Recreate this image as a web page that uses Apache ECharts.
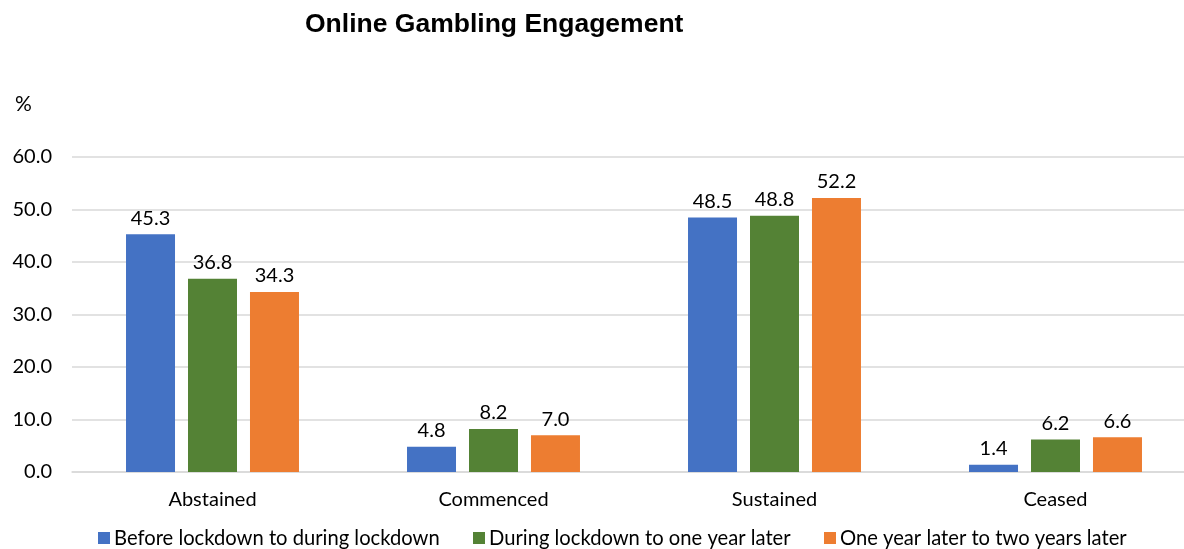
<!DOCTYPE html>
<html>
<head>
<meta charset="utf-8">
<script src="https://cdn.jsdelivr.net/npm/echarts@6/dist/echarts.min.js"></script>
<style>
  html, body { margin: 0; padding: 0; background: #ffffff; overflow: hidden; }
  /* plot area runs slightly past the right edge of the page */
  #chart { width: 1196px; height: 549px; }
</style>
</head>
<body>
<div id="chart"></div>
<script>
// Share of respondents by online gambling pattern, per period
const categories = ['Abstained', 'Commenced', 'Sustained', 'Ceased'];
const seriesNames = [
  'Before lockdown to during lockdown',
  'During lockdown to one year later',
  'One year later to two years later'
];
const beforeToDuring = [45.3, 4.8, 48.5, 1.4];
const duringToOneYear = [36.8, 8.2, 48.8, 6.2];
const oneToTwoYears = [34.3, 7.0, 52.2, 6.6];
const yTicks = [0, 10, 20, 30, 40, 50, 60];

const colors = ['#4472C4', '#548235', '#ED7D31'];
const values = [beforeToDuring, duringToOneYear, oneToTwoYears];
const FONT = 'Lato';

const chart = echarts.init(document.getElementById('chart'));

const legendLefts = [93, 468, 819];

chart.setOption({
  animation: false,
  backgroundColor: '#ffffff',
  title: [
    {
      text: 'Online Gambling Engagement',
      left: 300,
      top: 6,
      textStyle: { fontFamily: 'Liberation Sans', fontWeight: 'bold', fontSize: 26.5, color: '#000' }
    },
    {
      text: '%',
      left: 10,
      top: 89,
      textStyle: { fontFamily: FONT, fontWeight: 'normal', fontSize: 21, color: '#000' }
    }
  ],
  legend: seriesNames.map((n, i) => ({
    data: [n],
    left: legendLefts[i],
    top: 523,
    icon: 'rect',
    itemWidth: 12,
    itemHeight: 12,
    itemGap: 6,
    textStyle: { fontFamily: FONT, fontSize: 20.2, color: '#000', padding: [0, 0, 0, -1] }
  })),
  grid: { left: 72, right: 0, top: 157, bottom: 77, containLabel: false },
  xAxis: {
    type: 'category',
    data: categories,
    axisLine: { show: true, lineStyle: { color: '#d9d9d9', width: 1.5 } },
    axisTick: { show: false },
    axisLabel: { fontFamily: FONT, fontSize: 20, color: '#000', margin: 18 }
  },
  yAxis: {
    type: 'value',
    min: yTicks[0],
    max: yTicks[yTicks.length - 1],
    interval: 10,
    axisLine: { show: false },
    axisTick: { show: false },
    splitLine: { lineStyle: { color: '#d9d9d9', width: 1.5 } },
    axisLabel: {
      fontFamily: FONT, fontSize: 20, color: '#000', margin: 20,
      formatter: v => v.toFixed(1)
    }
  },
  series: seriesNames.map((n, i) => ({
    name: n,
    type: 'bar',
    data: values[i],
    barWidth: 49,
    barGap: '26.5%',
    itemStyle: { color: colors[i] },
    label: {
      show: true,
      position: 'top',
      distance: 6,
      fontFamily: FONT,
      fontSize: 20,
      color: '#000',
      formatter: p => p.value.toFixed(1)
    }
  }))
});
</script>
</body>
</html>
